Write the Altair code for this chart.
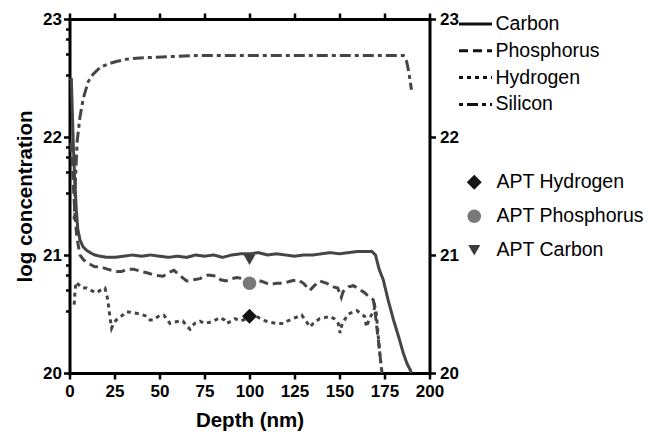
import altair as alt
import pandas as pd

# ---- data ----
series_names = ["Carbon", "Phosphorus", "Hydrogen", "Silicon"]

carbon_depth = [0.5, 1.0, 1.6, 2.2, 3.0, 3.8, 4.6, 5.8, 7.5, 9.5, 11.5, 14, 17, 20.7, 25, 30, 35, 40,
                45, 50, 55, 60, 65, 70, 75, 80, 85, 90, 95, 100, 105, 110, 115, 120, 125, 130, 135,
                140, 145, 150, 155, 160, 165, 168, 170, 172, 174.3, 177, 180, 183, 185.4, 187.5, 189.2, 190]
carbon_conc = [22.48, 22.5, 22.2, 21.9, 21.6, 21.38, 21.22, 21.13, 21.07, 21.04, 21.02, 21.0, 20.99, 20.98,
               20.98, 20.99, 21.0, 20.99, 21.0, 20.99, 20.98, 20.99, 20.98, 21.0, 20.99, 21.0, 20.98, 21.0,
               21.01, 21.01, 21.02, 21.0, 21.01, 21.0, 20.99, 21.0, 21.0, 21.01, 21.02, 21.01, 21.02, 21.03,
               21.03, 21.03, 21.0, 20.88, 20.79, 20.62, 20.45, 20.3, 20.17, 20.08, 20.03, 20.0]

phos_depth = [0.8, 1.5, 2.3, 3.0, 4.0, 5.8, 7.7, 10.4, 14, 17, 21, 26, 29, 32, 35.5, 40, 43, 47, 52, 55,
              58, 61, 65, 69, 72.5, 77, 81.8, 84, 87, 90, 93, 96, 100, 104, 108, 111, 115, 118.8, 123,
              127, 130, 133.6, 136, 139, 143, 146.6, 149, 151, 152, 155, 157.7, 161, 164, 166, 168.8,
              169.7, 170.6, 171.6, 172.5, 173.4, 173.7]
phos_conc = [21.95, 21.8, 21.55, 21.35, 21.16, 21.0, 20.96, 20.93, 20.9, 20.9, 20.88, 20.86, 20.86, 20.88,
             20.88, 20.86, 20.85, 20.83, 20.82, 20.85, 20.87, 20.83, 20.78, 20.79, 20.8, 20.83, 20.82,
             20.79, 20.78, 20.8, 20.81, 20.8, 20.78, 20.79, 20.77, 20.75, 20.76, 20.76, 20.78, 20.79,
             20.76, 20.7, 20.74, 20.78, 20.76, 20.73, 20.72, 20.64, 20.69, 20.73, 20.74, 20.71, 20.68,
             20.65, 20.62, 20.53, 20.4, 20.28, 20.15, 20.03, 20.0]

hyd_depth = [2.6, 3.0, 3.6, 5, 7, 9.5, 12, 15, 17, 19.7, 21, 21.6, 22.5, 23.4, 24.5, 26, 28, 31.8, 35.5,
             39, 43, 44.7, 46.6, 50.3, 52.4, 55.8, 57.7, 61.4, 63, 65, 67, 69.5, 72.5, 75, 78, 80, 83.6,
             86, 87.3, 90, 92, 95, 100, 104, 107, 111.4, 115, 118.8, 121, 124, 129, 131, 133.6, 136,
             139, 142, 144.7, 147, 149.3, 150.3, 151.5, 155, 159.6, 162, 164, 165, 166.2, 168, 169.7,
             170.5, 171.6, 172.5, 173.4]
hyd_conc = [20.58, 20.68, 20.77, 20.75, 20.72, 20.72, 20.7, 20.68, 20.7, 20.72, 20.64, 20.58, 20.47, 20.38,
            20.42, 20.45, 20.47, 20.52, 20.51, 20.5, 20.48, 20.45, 20.45, 20.49, 20.49, 20.42, 20.43,
            20.44, 20.44, 20.4, 20.37, 20.42, 20.44, 20.42, 20.43, 20.44, 20.47, 20.45, 20.42, 20.44,
            20.46, 20.44, 20.47, 20.48, 20.45, 20.43, 20.42, 20.42, 20.44, 20.46, 20.49, 20.45, 20.39,
            20.43, 20.46, 20.47, 20.48, 20.46, 20.42, 20.34, 20.42, 20.5, 20.53, 20.5, 20.48, 20.39,
            20.44, 20.5, 20.56, 20.5, 20.3, 20.15, 20.02]

si_depth = [2.6, 3.3, 4.3, 5.8, 7.7, 10.4, 13, 17, 21.6, 26, 32, 39, 54, 70, 90, 110, 130, 150, 170,
            185.5, 187.3, 188.5, 189.5, 190]
si_conc = [21.3, 21.65, 21.97, 22.17, 22.33, 22.47, 22.53, 22.59, 22.62, 22.64, 22.66, 22.67, 22.68,
           22.69, 22.69, 22.69, 22.69, 22.69, 22.69, 22.69, 22.64, 22.55, 22.45, 22.4]

apt_names = ["APT Hydrogen", "APT Phosphorus", "APT Carbon"]
apt_depth = [100, 100, 100]
apt_conc = [20.48, 20.76, 20.96]

x_ticks = [0, 25, 50, 75, 100, 125, 150, 175, 200]
y_major = [20, 21, 22, 23]
y_minor = [22.915, 22.83, 22.7, 22.525, 21.915, 21.83, 21.7, 21.525, 20.915, 20.83, 20.7, 20.525]

# ---- tables ----
rows = []
for name, ds, vs in [("Carbon", carbon_depth, carbon_conc), ("Phosphorus", phos_depth, phos_conc),
                     ("Hydrogen", hyd_depth, hyd_conc), ("Silicon", si_depth, si_conc)]:
    for i, (d, v) in enumerate(zip(ds, vs)):
        rows.append({"series": name, "depth": d, "conc": v, "order": i})
lines_df = pd.DataFrame(rows)
apt_df = pd.DataFrame({"name": apt_names, "depth": apt_depth, "conc": apt_conc})

xs = alt.Scale(domain=[0, 200], nice=False, zero=False)
ys = alt.Scale(domain=[20, 23], nice=False, zero=False)
FONT = "Liberation Sans"

lines = alt.Chart(lines_df).mark_line(strokeWidth=3, color="#454545").encode(
    x=alt.X("depth:Q", scale=xs, axis=alt.Axis(
        orient="bottom", values=x_ticks, title="Depth (nm)", tickSize=6, labelPadding=4,
        titleX=180, titleY=47, titleBaseline="middle", titleAnchor="middle")),
    y=alt.Y("conc:Q", scale=ys, axis=alt.Axis(
        orient="left", values=y_major + y_minor, title="log concentration",
        labelExpr="datum.value % 1 === 0 ? format(datum.value, 'd') : ''",
        tickSize={"condition": {"test": "datum.value % 1 === 0", "value": 6}, "value": 4},
        labelPadding=2, titleX=-44, titleY=177, titleBaseline="middle", titleAnchor="middle")),
    strokeDash=alt.StrokeDash("series:N", scale=alt.Scale(
        domain=series_names, range=[[1, 0], [9, 5], [4, 4], [4, 4, 11, 4]]),
        legend=alt.Legend(title=None, orient="none", legendX=396, legendY=-5,
                          symbolType="M-2,0H2", symbolSize=272, symbolStrokeWidth=3,
                          symbolStrokeColor="#111111", labelOffset=10, rowPadding=6.8)),
    detail="series:N",
    order="order:Q",
)

pt_legend = alt.Legend(title=None, orient="none", legendX=395, legendY=153.5,
                       labelOffset=12.5, rowPadding=13)
points = alt.Chart(apt_df).mark_point(filled=True, opacity=1).encode(
    x=alt.X("depth:Q", scale=xs, axis=None),
    y=alt.Y("conc:Q", scale=ys, axis=None),
    shape=alt.Shape("name:N", scale=alt.Scale(domain=apt_names, range=["diamond", "circle", "triangle-down"]),
                    legend=pt_legend),
    color=alt.Color("name:N", scale=alt.Scale(domain=apt_names, range=["#151515", "#787878", "#3d3d3d"]),
                    legend=pt_legend),
    size=alt.Size("name:N", scale=alt.Scale(domain=apt_names, range=[225, 144, 169]),
                  legend=pt_legend),
)

frame = alt.Chart(apt_df).mark_point(opacity=0).encode(
    x=alt.X("depth:Q", scale=xs, axis=alt.Axis(orient="top", values=x_ticks, labels=False,
                                                title=None, tickSize=6)),
    y=alt.Y("conc:Q", scale=ys, axis=alt.Axis(orient="right", values=y_major, format="d",
                                               title=None, tickSize=6, labelPadding=4)),
)

chart = alt.layer(lines, points, frame).resolve_scale(
    x="independent", y="independent"
).properties(
    width=360, height=354,
    autosize=alt.AutoSizeParams(type="none"),
    padding={"left": 61.5, "top": 11, "right": 222, "bottom": 60},
).configure_view(stroke=None).configure_axis(
    grid=False, domainWidth=3, domainColor="black", domainCap="square",
    tickColor="black", tickWidth=2.5,
    labelFont=FONT, labelFontWeight="bold", labelFontSize=17, labelColor="black",
    labelFlush=False, labelOverlap=False,
    titleFont=FONT, titleFontWeight="bold", titleFontSize=20.5, titleColor="black",
).configure_legend(
    labelFont=FONT, labelFontSize=19.5, labelColor="black",
)

chart.save("out.html", embed_options={"renderer": "svg", "actions": False})
